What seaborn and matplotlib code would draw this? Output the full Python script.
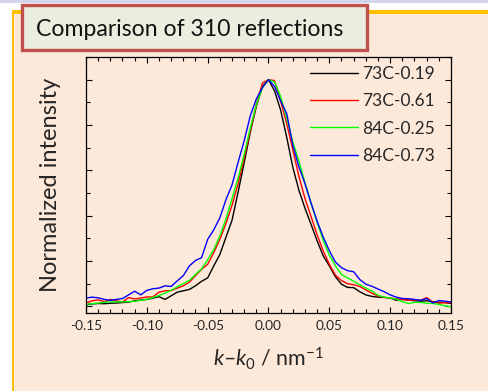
import numpy as np
import pandas as pd
import matplotlib
matplotlib.use("Agg")
import matplotlib.pyplot as plt
from matplotlib.patches import Rectangle
from matplotlib.ticker import MultipleLocator
import seaborn as sns

# ---- data ----
k = np.round(np.arange(-0.150, 0.1501, 0.005), 3)

y_73C_019 = [0.006, 0.010, 0.012, 0.011, 0.013, 0.014, 0.016, 0.018, 0.024, 0.027,
             0.030, 0.036, 0.042, 0.030, 0.046, 0.062, 0.068, 0.074, 0.090, 0.110,
             0.125, 0.178, 0.228, 0.304, 0.379, 0.503, 0.633, 0.767, 0.882, 0.970,
             1.000, 0.950, 0.865, 0.745, 0.613, 0.512, 0.432, 0.361, 0.288, 0.222,
             0.178, 0.130, 0.097, 0.083, 0.082, 0.064, 0.050, 0.043, 0.040, 0.039,
             0.036, 0.026, 0.030, 0.028, 0.024, 0.022, 0.024, 0.020, 0.018, 0.016,
             0.012]
y_73C_061 = [0.014, 0.024, 0.028, 0.020, 0.030, 0.024, 0.018, 0.038, 0.032, 0.036,
             0.041, 0.041, 0.062, 0.068, 0.069, 0.080, 0.090, 0.106, 0.135, 0.163,
             0.185, 0.236, 0.295, 0.365, 0.445, 0.540, 0.655, 0.775, 0.890, 0.985,
             1.000, 0.996, 0.905, 0.805, 0.690, 0.573, 0.475, 0.395, 0.315, 0.243,
             0.185, 0.137, 0.113, 0.099, 0.095, 0.087, 0.072, 0.057, 0.045, 0.039,
             0.035, 0.033, 0.030, 0.026, 0.028, 0.026, 0.038, 0.018, 0.013, 0.016,
             0.015]
y_84C_025 = [0.008, 0.011, 0.014, 0.017, 0.019, 0.019, 0.019, 0.020, 0.022, 0.026,
             0.030, 0.039, 0.047, 0.058, 0.070, 0.086, 0.100, 0.114, 0.140, 0.165,
             0.205, 0.250, 0.310, 0.385, 0.475, 0.565, 0.670, 0.785, 0.890, 0.965,
             1.000, 0.990, 0.925, 0.830, 0.725, 0.640, 0.545, 0.455, 0.368, 0.291,
             0.225, 0.178, 0.140, 0.125, 0.110, 0.095, 0.080, 0.067, 0.048, 0.040,
             0.036, 0.031, 0.020, 0.012, 0.017, 0.017, 0.013, 0.012, 0.008, 0.002,
             -0.003]
y_84C_073 = [0.036, 0.040, 0.037, 0.030, 0.026, 0.030, 0.034, 0.050, 0.066, 0.050,
             0.070, 0.077, 0.080, 0.090, 0.087, 0.112, 0.135, 0.178, 0.202, 0.214,
             0.295, 0.337, 0.390, 0.470, 0.535, 0.635, 0.730, 0.840, 0.915, 0.965,
             1.000, 0.970, 0.905, 0.850, 0.710, 0.615, 0.540, 0.455, 0.375, 0.305,
             0.245, 0.195, 0.170, 0.157, 0.152, 0.118, 0.097, 0.088, 0.076, 0.064,
             0.050, 0.040, 0.034, 0.033, 0.030, 0.026, 0.034, 0.014, 0.025, 0.022,
             0.019]

labels = ["73C-0.19", "73C-0.61", "84C-0.25", "84C-0.73"]
colors = ["#000000", "#FF0000", "#00FF00", "#0000FF"]
x_ticks = [-0.15, -0.10, -0.05, 0.00, 0.05, 0.10, 0.15]

df = pd.concat([
    pd.DataFrame({"k": k, "I": y, "sample": lab})
    for y, lab in zip([y_73C_019, y_73C_061, y_84C_025, y_84C_073], labels)
])

# ---- style ----
sns.set_style("ticks")
plt.rcParams["font.family"] = ["Lato", "DejaVu Sans"]
plt.rcParams["mathtext.fontset"] = "custom"
plt.rcParams["mathtext.rm"] = "Lato"
plt.rcParams["mathtext.it"] = "Lato:italic"

W, H = 489, 391
fig = plt.figure(figsize=(W / 100, H / 100), dpi=100, facecolor="white")


def frac_rect(x0, y0, x1, y1, **kw):
    """rectangle given in pixel coords with top-left origin"""
    return Rectangle((x0 / W, 1 - y1 / H), (x1 - x0) / W, (y1 - y0) / H,
                     transform=fig.transFigure, **kw)


fig.patches.extend([
    frac_rect(0, 0, W, 3, facecolor="#D3D5EB", edgecolor="none", zorder=0),
    frac_rect(14, 13, W, H, facecolor="#FDE9DA", edgecolor="none", zorder=0),
    frac_rect(12, 10, W, 13.5, facecolor="#FFC000", edgecolor="none", zorder=1),
    frac_rect(12, 10, 14.5, H, facecolor="#FFC000", edgecolor="none", zorder=1),
    frac_rect(22, 5, 367, 50, facecolor="#EBEEDE", edgecolor="#C0504D",
              linewidth=2.4, zorder=2),
])
fig.text(36 / W, 1 - 29 / H, "Comparison of 310 reflections", fontsize=16.6,
         ha="left", va="center", color="#111111", zorder=3)

ax = fig.add_axes([86 / W, 1 - 313 / H, 365 / W, 256 / H])
ax.set_zorder(5)
ax.set_facecolor("none")

sns.lineplot(data=df, x="k", y="I", hue="sample", palette=colors,
             estimator=None, sort=False, linewidth=1.0, ax=ax)

ax.set_xlim(-0.15, 0.15)
ax.set_ylim(-0.03, 1.1)
ax.set_xticks(x_ticks)
ax.set_xticklabels([f"{t:.2f}" for t in x_ticks])
ax.xaxis.set_minor_locator(MultipleLocator(0.01))
ax.yaxis.set_major_locator(MultipleLocator(0.2))
ax.yaxis.set_minor_locator(MultipleLocator(0.1))
ax.tick_params(which="both", direction="in", top=True, right=True,
               width=0.8, color="black", labelsize=9.8, labelleft=False, pad=5)
ax.tick_params(which="major", length=4.5)
ax.tick_params(which="minor", length=2.8)
for s in ax.spines.values():
    s.set_visible(True)
    s.set_linewidth(0.9)
    s.set_color("black")

ax.set_ylabel("Normalized intensity", fontsize=17, labelpad=18)
ax.set_xlabel(r"$k$–$k_{0}$ / nm$^{-1}$", fontsize=15.5, labelpad=10)

leg = ax.legend(loc="upper right", bbox_to_anchor=(0.955, 0.965), frameon=False,
                fontsize=12.5, handlelength=2.75, handletextpad=0.23,
                labelspacing=0.65, borderpad=0, borderaxespad=0)
for line in leg.get_lines():
    line.set_linewidth(1.0)

fig.savefig("out.png", dpi=100, facecolor=fig.get_facecolor())
